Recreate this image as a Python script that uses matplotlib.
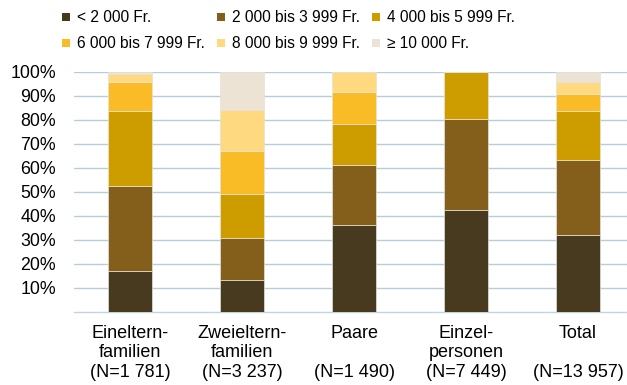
import numpy as np
import matplotlib
matplotlib.use("Agg")
import matplotlib.pyplot as plt
from matplotlib.patches import Rectangle

categories = ["Eineltern-\nfamilien\n(N=1 781)",
              "Zweieltern-\nfamilien\n(N=3 237)",
              "Paare\n\n(N=1 490)",
              "Einzel-\npersonen\n(N=7 449)",
              "Total\n\n(N=13 957)"]

series_names = ["< 2 000 Fr.", "2 000 bis 3 999 Fr.", "4 000 bis 5 999 Fr.",
                "6 000 bis 7 999 Fr.", "8 000 bis 9 999 Fr.", "\u2265 10 000 Fr."]

# share in % per income class, one list per class (in category order)
lt2000 = [16.9, 13.2, 36.4, 42.4, 32.0]
b2000 = [35.7, 17.8, 24.7, 38.0, 31.5]
b4000 = [31.3, 18.3, 17.2, 19.6, 20.4]
b6000 = [12.1, 17.9, 13.5, 0.0, 7.1]
b8000 = [3.0, 17.1, 8.2, 0.0, 5.0]
ge10000 = [1.0, 15.7, 0.0, 0.0, 4.0]

colors = ["#473a1f", "#835f1b", "#cd9d00", "#f9bc26", "#ffd97f", "#ede3d4"]

plt.rcParams['font.family'] = ['Liberation Sans', 'DejaVu Sans']
W, H = 627, 385

fig = plt.figure(figsize=(W / 100, H / 100), dpi=100)
ax = fig.add_axes([74/W, 73/H, 560/W, 240/H])

x = np.arange(len(categories))
bottom = np.zeros(len(categories))
for vals, col in zip([lt2000, b2000, b4000, b6000, b8000, ge10000], colors):
    vals = np.array(vals)
    ax.bar(x, vals, bottom=bottom, width=0.4, color=col,
           edgecolor="#e8e2d6", linewidth=0.5, zorder=3)
    bottom += vals

ax.set_xlim(-0.5, 4.5)
ax.set_ylim(0, 100)
ax.set_yticks(np.arange(10, 101, 10))
ax.set_yticklabels(["%d%%" % v for v in range(10, 101, 10)], fontsize=12.8)
ax.set_xticks(x)
ax.set_xticklabels(categories, fontsize=13, linespacing=1.22)
ax.tick_params(axis='both', length=0, colors='black')
ax.tick_params(axis='y', pad=13)
ax.tick_params(axis='x', pad=9)
ax.yaxis.grid(True, color="#b7cdda", linewidth=1, zorder=0)
for s in ["top", "right", "left"]:
    ax.spines[s].set_visible(False)
ax.spines["bottom"].set_color("#c4d3dc")
ax.spines["bottom"].set_linewidth(1)

# legend: 3 columns x 2 rows, placed in figure pixels
col_x = [62, 217, 372]
row_y = [17, 43]
for i, (name, c) in enumerate(zip(series_names, colors)):
    px = col_x[i % 3]
    py = H - row_y[i // 3]
    fig.add_artist(Rectangle((px / W, (py - 4) / H), 8 / W, 8 / H,
                             transform=fig.transFigure, color=c, lw=0))
    fig.text((px + 15) / W, py / H, name, fontsize=11.2, va='center', ha='left')

fig.savefig("out.png", dpi=100)
